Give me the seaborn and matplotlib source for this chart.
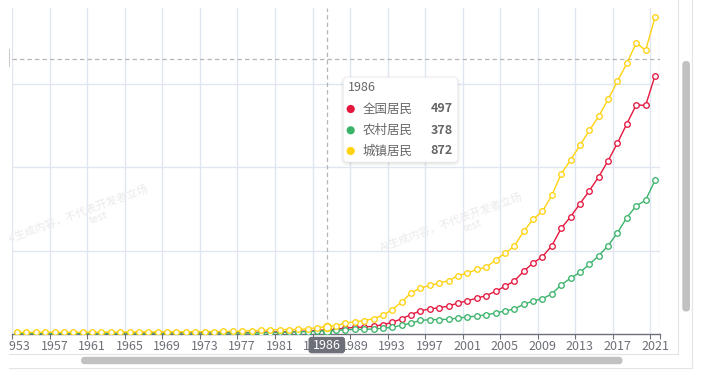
import numpy as np
import pandas as pd
import matplotlib
matplotlib.use("Agg")
import matplotlib.pyplot as plt
import seaborn as sns
from matplotlib.patches import FancyBboxPatch, Rectangle, Circle
from matplotlib.transforms import Affine2D
from matplotlib.lines import Line2D

# ---------------- data ----------------
years = list(range(1953, 2022))

national = [91, 92, 97, 101, 102, 106, 103, 110, 117, 125, 127, 129, 133, 139, 143, 139, 142,
            147, 150, 155, 162, 163, 167, 171, 175, 184, 208, 238, 264, 288, 316, 361, 446, 497,
            565, 714, 788, 833, 932, 1116, 1393, 1833, 2330, 2789, 3002, 3159, 3346, 3721, 3987,
            4301, 4600, 5124, 5724, 6360, 7524, 8520, 9276, 10596, 12684, 14076, 15636, 17196,
            18876, 20796, 22935, 25245, 27504, 27439, 31013]

rural = [72, 72, 77, 78, 79, 83, 65, 68, 82, 88, 89, 91, 100, 104, 107, 104, 106,
         114, 116, 116, 123, 123, 124, 125, 124, 138, 159, 178, 201, 223, 250, 287, 349, 378,
         421, 509, 549, 560, 602, 688, 805, 1038, 1313, 1626, 1722, 1730, 1766, 1917, 2032,
         2157, 2292, 2520, 2760, 3000, 3560, 3960, 4240, 4800, 5900, 6700, 7400, 8360,
         9400, 10600, 12145, 13985, 15382, 16063, 18450]

urban = [188, 189, 192, 212, 205, 195, 206, 214, 203, 226, 222, 234, 237, 244, 251, 244, 250,
         261, 267, 283, 289, 298, 311, 324, 342, 405, 425, 489, 521, 536, 558, 618, 765, 872,
         998, 1311, 1466, 1596, 1840, 2262, 2924, 3852, 4931, 5532, 5823, 6109, 6405, 6999, 7324,
         7745, 8004, 8880, 9684, 10524, 12324, 13764, 14724, 16644, 19236, 20880, 22644, 24444,
         26124, 28164, 30360, 32484, 34956, 34044, 38004]

series_names = ["全国居民", "农村居民", "城镇居民"]
series_values = [national, rural, urban]
colors = ["#E5173F", "#3BB36B", "#FFD20F"]
tick_years = list(range(1953, 2022, 4))
hover_year = 1986
cursor_value = 33000
watermark_main = "AI生成内容，不代表开发者立场"
watermark_sub = "test"

# ---------------- figure ----------------
W, H = 702, 377
fig = plt.figure(figsize=(W / 100, H / 100), dpi=100)
fig.patch.set_facecolor("white")
plt.rcParams["font.family"] = ["Noto Sans CJK SC", "DejaVu Sans"]

# pixel transform (top-left origin)
PX = Affine2D().scale(1 / 100, -1 / 100).translate(0, H / 100) + fig.dpi_scale_trans

ax_left, ax_right, ax_top, ax_bottom = 12.3, 659.7, 8, 334
ax = fig.add_axes([ax_left / W, (H - ax_bottom) / H, (ax_right - ax_left) / W, (ax_bottom - ax_top) / H])
ax.set_facecolor("none")

ymax = (ax_bottom - ax_top) * 10000 / 83.3
ax.set_xlim(years[0] - 0.5, years[-1] + 0.5)
ax.set_ylim(0, ymax)

grid_c = "#E0E6F1"
axis_c = "#6E7079"

# grid lines
boundaries = [years[0] - 0.5 + 4 * k for k in range(0, 18)] + [years[-1] + 0.5]
for b in boundaries:
    ax.axvline(b, color=grid_c, lw=1, zorder=0)
for yv in [10000, 20000, 30000]:
    ax.axhline(yv, color=grid_c, lw=1, zorder=0)

# watermark
wm_color = "#eaeaea"
for cx, cy in [(78, 214), (452, 222)]:
    fig.text(cx, cy, watermark_main, transform=PX, rotation=20, fontsize=7.8, color=wm_color,
             ha="center", va="center", rotation_mode="anchor", zorder=0.5)
    ang = np.deg2rad(20)
    tx = cx + 18 * np.cos(ang) + 11 * np.sin(ang)
    ty = cy - 18 * np.sin(ang) + 11 * np.cos(ang)
    fig.text(tx, ty, watermark_sub, transform=PX, rotation=20, fontsize=7.8, color=wm_color,
             ha="center", va="center", rotation_mode="anchor", zorder=0.5)

# series
for name, vals, c in zip(series_names, series_values, colors):
    sns.lineplot(x=years, y=vals, ax=ax, color=c, lw=1.0, marker="o", markersize=4.0,
                 markerfacecolor="white", markeredgecolor=c, markeredgewidth=0.95,
                 legend=False, zorder=3)
    hv = vals[years.index(hover_year)]
    sns.scatterplot(x=[hover_year], y=[hv], ax=ax, s=30, color="white", edgecolor=c,
                    linewidth=1.2, legend=False, zorder=4)

# axis pointer cross lines
ax.axvline(hover_year, color="#B5B5B5", lw=0.9, ls=(0, (3.5, 2.5)), zorder=2)
ax.axhline(cursor_value, color="#B5B5B5", lw=0.9, ls=(0, (3.5, 2.5)), zorder=2)

# axes styling
for s in ["top", "right", "left"]:
    ax.spines[s].set_visible(False)
ax.spines["bottom"].set_color(axis_c)
ax.spines["bottom"].set_linewidth(1)
ax.set_yticks([])
ax.set_xticks(boundaries)
ax.set_xticklabels([])
ax.set_xticks(tick_years, minor=True)
ax.set_xticklabels([str(y) for y in tick_years], minor=True)
ax.tick_params(axis="x", which="major", length=3.6, width=0.8, color=axis_c, direction="out")
ax.tick_params(axis="x", which="minor", length=0, pad=4.0, labelsize=9, labelcolor=axis_c)
ax.set_xlabel("")
ax.set_ylabel("")


def add_px(artist, z):
    artist.set_transform(PX)
    artist.set_zorder(z)
    fig.add_artist(artist)


# left clip
add_px(Rectangle((0, 0), 9, H, fc="white", ec="none"), 8)
add_px(Rectangle((8.6, 49), 1.4, 18, fc="#c9c9c9", ec="none"), 9)

# x axis pointer label
add_px(FancyBboxPatch((308.5, 336.8), 36.5, 16.5, boxstyle="round,pad=0,rounding_size=3",
                      fc="#6E7079", ec="none"), 9)
fig.text(326.7, 345.3, str(hover_year), transform=PX, ha="center", va="center",
         fontsize=9, color="white", zorder=10)

# tooltip
tx0, ty0, tw, th = 343.5, 77.5, 114, 84.5
for i, a in enumerate([0.025, 0.025, 0.03, 0.035]):
    g = 4 - i
    add_px(FancyBboxPatch((tx0 - g + 1, ty0 - g + 2), tw + 2 * g - 2, th + 2 * g - 2,
                          boxstyle="round,pad=0,rounding_size=%g" % (4 + g),
                          fc="black", ec="none", alpha=a), 9)
add_px(FancyBboxPatch((tx0, ty0), tw, th, boxstyle="round,pad=0,rounding_size=4",
                      fc="white", ec="#f0f0f0", lw=0.6), 9.5)
fig.text(347.5, 87.5, str(hover_year), transform=PX, ha="left", va="center",
         fontsize=9, color="#666666", zorder=10)
row_y = [109, 130.3, 151]
for name, vals, c, ry in zip(series_names, series_values, colors, row_y):
    add_px(Circle((350.7, ry), 4.1, fc=c, ec="none"), 10)
    fig.text(362.5, ry, name, transform=PX, ha="left", va="center", fontsize=9,
             color="#666666", zorder=10)
    fig.text(452.5, ry, str(vals[years.index(hover_year)]), transform=PX, ha="right",
             va="center", fontsize=9, color="#666666", fontweight="bold", zorder=10)

# scroll frame
frame_c = "#e4e4e4"
add_px(Line2D([9, 678], [353.5, 353.5], color=frame_c, lw=0.8), 7)
add_px(Line2D([678, 678], [0, 353.5], color=frame_c, lw=0.8), 7)
add_px(Line2D([9, 692], [368, 368], color=frame_c, lw=0.8), 7)
add_px(Line2D([692, 692], [0, 368], color=frame_c, lw=0.8), 7)
add_px(FancyBboxPatch((81, 356.8), 541.5, 7.4, boxstyle="round,pad=0,rounding_size=3.7",
                      fc="#c1c1c1", ec="none"), 7)
add_px(FancyBboxPatch((682.3, 61), 7.7, 250.5, boxstyle="round,pad=0,rounding_size=3.8",
                      fc="#c1c1c1", ec="none"), 7)

fig.savefig("out.png", dpi=100, facecolor="white")
